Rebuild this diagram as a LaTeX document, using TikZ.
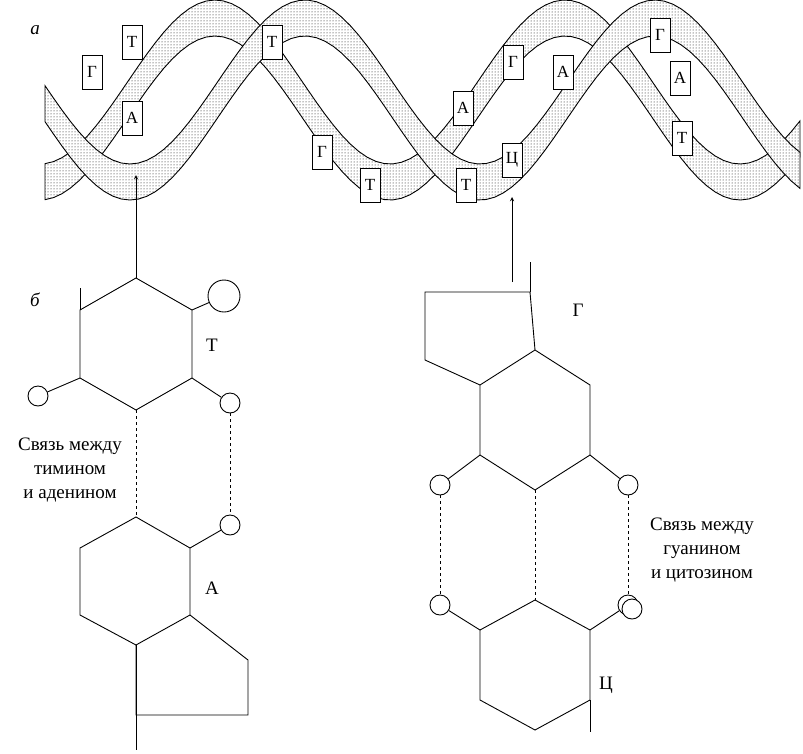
\documentclass[tikz,border=0pt]{standalone}
\usepackage{fontspec}
\setmainfont{Liberation Serif}
\usetikzlibrary{patterns}
\begin{document}
\begin{tikzpicture}[x=1pt,y=-1pt,line width=0.9pt,
  atom/.style={circle,draw,fill=white,minimum size=20pt,inner sep=0pt},
  big/.style={circle,draw,fill=white,minimum size=32pt,inner sep=0pt},
  lbl/.style={font=\fontsize{19}{22}\selectfont},
  note/.style={font=\fontsize{19}{24}\selectfont,align=center},
  base/.style={draw,fill=white,minimum width=20pt,minimum height=34pt,inner sep=1pt,font=\fontsize{17}{20}\selectfont},
  rib/.style={draw,fill=white,postaction={pattern=dots}}]
\useasboundingbox (0,0) rectangle (803,753);
% helix
\path[rib] plot[domain=45:800,samples=90] (\x,{100+82*cos((\x-40)/350*360)-18}) -- plot[domain=800:45,samples=90] (\x,{100+82*cos((\x-40)/350*360)+18}) -- cycle;
\path[rib] plot[domain=45:800,samples=90] (\x,{100+82*cos((\x-130)/350*360)-18}) -- plot[domain=800:45,samples=90] (\x,{100+82*cos((\x-130)/350*360)+18}) -- cycle;
\foreach \n/\x/\y/\t in {b1/92/72/Г,b2/132/42/Т,b3/132/118/А,b4/272/42/Т,b5/322/152/Г,b6/370/185/Т,b7/463/108/А,b8/466/185/Т,b9/513/62/Г,b10/512/160/Ц,b11/563/72/А,b12/660/35/Г,b13/680/78/А,b14/682/138/Т}
  \node[base] (\n) at (\x,\y) {\t};
\node[font=\fontsize{19}{22}\selectfont\itshape] (la) at (35,30) {а};
\node[font=\fontsize{19}{22}\selectfont\itshape] (lb) at (35,300) {б};
% left molecule
\coordinate (t1) at (136,278); \coordinate (t2) at (192,310); \coordinate (t3) at (192,378);
\coordinate (t4) at (136,410); \coordinate (t5) at (80,378); \coordinate (t6) at (80,310);
\draw (t1)--(t2)--(t3)--(t4)--(t5)--(t6)--cycle;
\coordinate (tip1) at (136,175);
\draw[-stealth] (t1) -- (tip1);
\coordinate (lv) at (80,288); \draw (t6)--(lv);
\node[big] (c1) at (224,296) {}; \draw (t2)--(c1);
\node[atom] (c2) at (38,396) {}; \draw (t5)--(c2);
\node[atom] (c3) at (230,403) {}; \draw (t3)--(c3);
\node[lbl] (lt) at (212,345) {Т};
\coordinate (a1) at (136,517); \coordinate (a2) at (190,548); \coordinate (a3) at (190,615);
\coordinate (a4) at (136,645); \coordinate (a5) at (80,615); \coordinate (a6) at (80,548);
\draw (a1)--(a2)--(a3)--(a4)--(a5)--(a6)--cycle;
\node[atom] (c4) at (230,525) {}; \draw (a2)--(c4);
\draw[dashed] (t4)--(a1); \draw[dashed] (c3)--(c4);
\node[lbl] (la2) at (212,588) {А};
\coordinate (p1) at (136,715); \coordinate (p2) at (248,715); \coordinate (p3) at (248,660);
\draw (a4)--(p1)--(p2)--(p3)--(a3);
\coordinate (lbot) at (136,750); \draw (a4)--(lbot);
\node[note] (n1) at (70,470) {Связь между\\тимином\\и аденином};
% right molecule
\coordinate (g1) at (535,350); \coordinate (g2) at (590,385); \coordinate (g3) at (590,455);
\coordinate (g4) at (535,490); \coordinate (g5) at (480,455); \coordinate (g6) at (480,385);
\draw (g1)--(g2)--(g3)--(g4)--(g5)--(g6)--cycle;
\coordinate (q1) at (425,360); \coordinate (q2) at (425,292); \coordinate (q3) at (530,292);
\draw (g6)--(q1)--(q2)--(q3)--(g1);
\coordinate (rv) at (530,262); \draw (q3)--(rv);
\coordinate (rs) at (512,282); \coordinate (tip2) at (512,197);
\draw[-stealth] (rs)--(tip2);
\node[lbl] (lg) at (578,310) {Г};
\node[atom] (d1) at (440,485) {}; \draw (g5)--(d1);
\node[atom] (d2) at (628,485) {}; \draw (g3)--(d2);
\coordinate (h1) at (535,600); \coordinate (h2) at (590,630); \coordinate (h3) at (590,700);
\coordinate (h4) at (535,730); \coordinate (h5) at (480,700); \coordinate (h6) at (480,630);
\draw (h1)--(h2)--(h3)--(h4)--(h5)--(h6)--cycle;
\node[atom] (d3) at (440,605) {}; \draw (h6)--(d3);
\node[atom] (d4) at (628,605) {}; \node[atom] (d5) at (632,609) {}; \draw (h2)--(d4);
\draw[dashed] (d1)--(d3); \draw[dashed] (g4)--(h1); \draw[dashed] (d2)--(d4);
\coordinate (rb) at (590,732); \draw (h3)--(rb);
\node[lbl] (lc) at (606,685) {Ц};
\node[note] (n2) at (702,550) {Связь между\\гуанином\\и цитозином};
\end{tikzpicture}
\end{document}
